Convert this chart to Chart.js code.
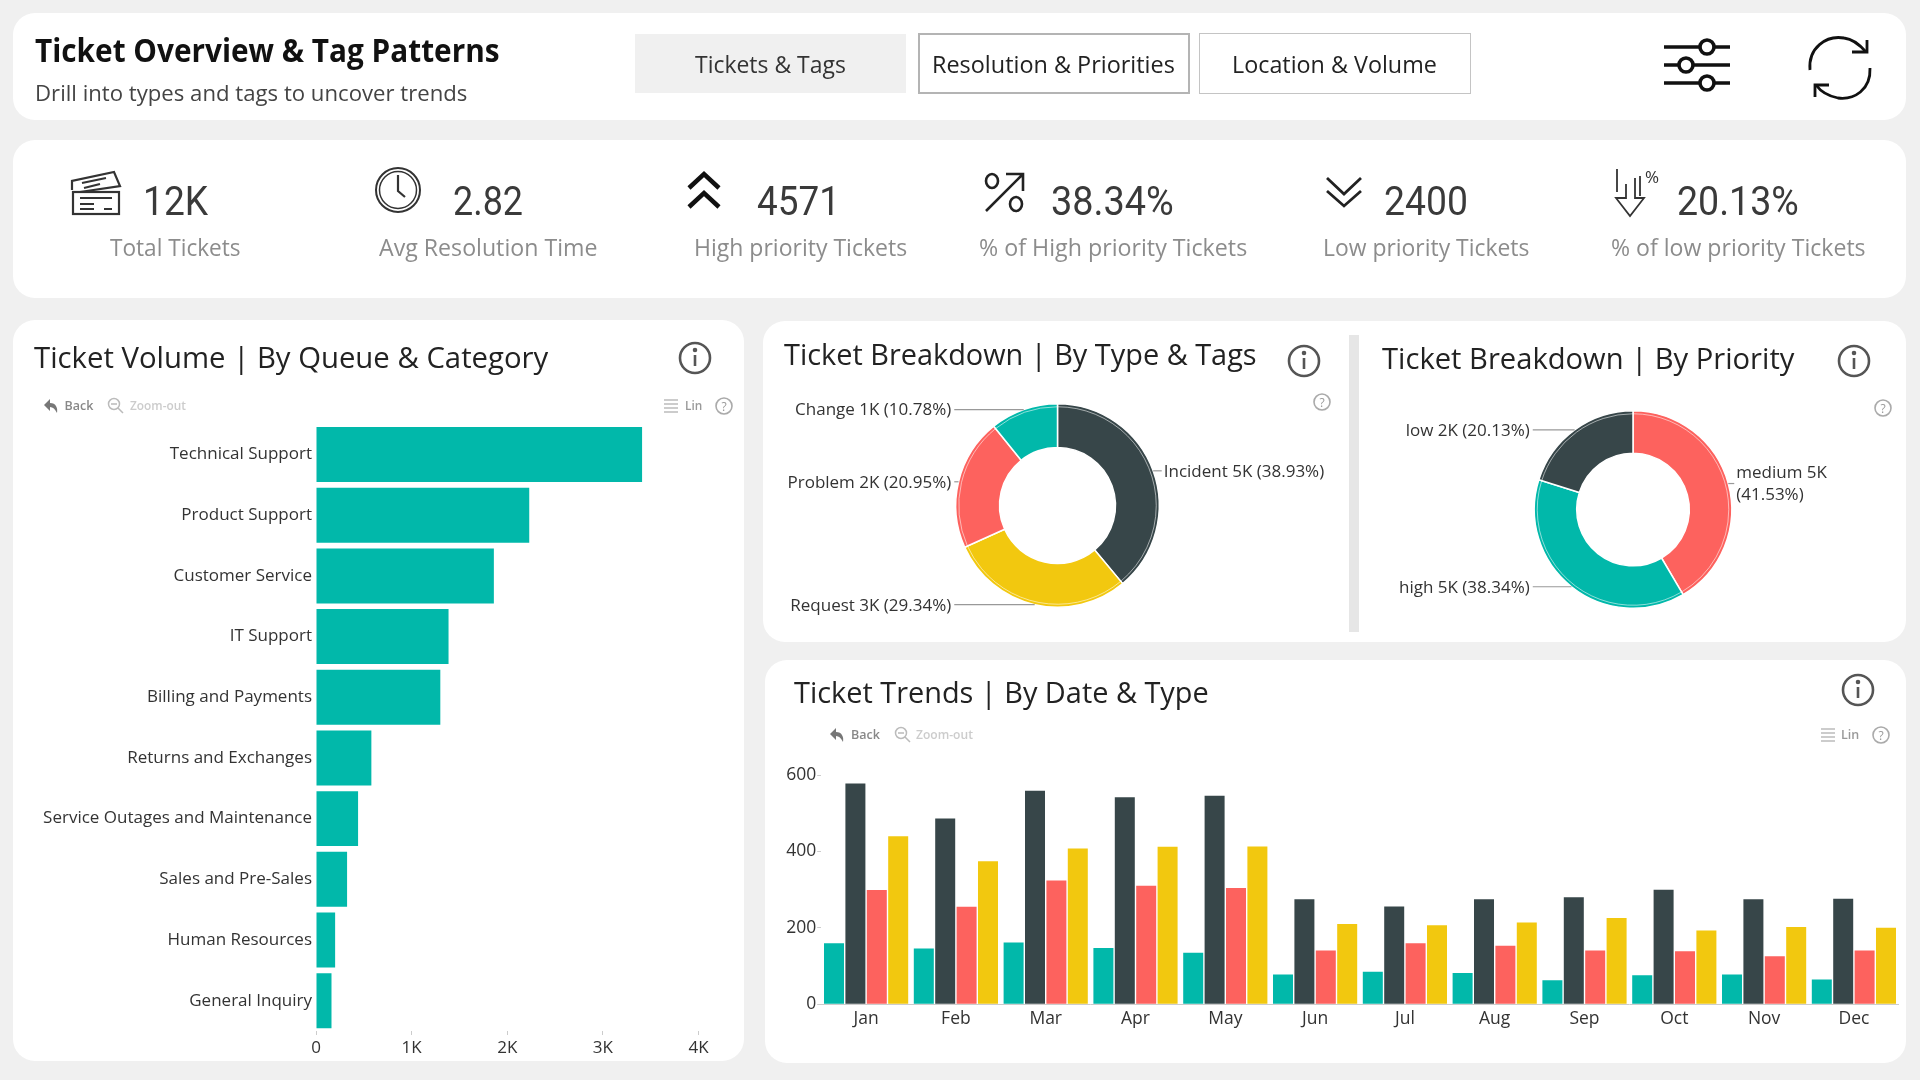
<!DOCTYPE html>
<html>
<head>
<meta charset="utf-8">
<title>Ticket Overview & Tag Patterns</title>
<script src="https://cdn.jsdelivr.net/npm/chart.js@4"></script>
<style>
  html, body { margin: 0; padding: 0; background: #f0f0f0; }
  #page { position: relative; width: 1920px; height: 1080px; overflow: hidden; background: #f0f0f0; font-family: "Open Sans", sans-serif; }
  .card { position: absolute; background: #fff; border-radius: 22px; }
  .box { position: absolute; box-sizing: border-box; }
  .txt { position: absolute; white-space: nowrap; transform-origin: left center; line-height: 1; }
  canvas { position: absolute; }
  #icons { position: absolute; left: 0; top: 0; }
</style>
</head>
<body>
<div id="page">
  <div class="card" style="left:13px;top:13px;width:1893px;height:107px"></div>
  <div class="card" style="left:13px;top:140px;width:1893px;height:158px"></div>
  <div class="card" style="left:13px;top:320px;width:731px;height:741px"></div>
  <div class="card" style="left:763px;top:321px;width:1143px;height:321px"></div>
  <div class="card" style="left:765px;top:660px;width:1141px;height:403px"></div>

  <div class="box" style="left:635px;top:34px;width:271px;height:59px;background:#f0f0f0"></div>
  <div class="box" style="left:918px;top:33px;width:272px;height:61px;border:2px solid #b4b4b4;background:#fff"></div>
  <div class="box" style="left:1199px;top:33px;width:272px;height:61px;border:1.5px solid #c4c4c4;background:#fff"></div>
  <div class="box" style="left:1349px;top:335px;width:10px;height:297px;background:#e6e6e6"></div>

  <canvas id="queueChart" style="left:20px;top:415px"></canvas>
  <canvas id="typeChart" style="left:770px;top:393.2px"></canvas>
  <canvas id="priorityChart" style="left:1360px;top:399.5px"></canvas>
  <canvas id="trendChart" style="left:770px;top:765px"></canvas>

  <svg id="icons" width="1920" height="1080" fill="none" stroke="#222" stroke-width="2">
    <!-- tickets -->
    <g stroke="#333" stroke-width="2.2">
      <path d="M72 190 V181 L114 172 L120 186 L80 192"/>
      <path d="M82 183 L106 178 M84 188 L100 184"/>
      <rect x="73" y="192" width="46" height="22"/>
      <path d="M80 198 H112 M80 204 H94 M80 209 H94 M104 209 H112"/>
    </g>
    <!-- clock -->
    <circle cx="398" cy="190" r="22" stroke="#333" stroke-width="2"/>
    <circle cx="398" cy="190" r="18.5" stroke="#333" stroke-width="1.5"/>
    <path d="M398 175 V191 L405 197" stroke="#333" stroke-width="2.2"/>
    <!-- high chevrons -->
    <path d="M689 188 L704 174 L719 188 M689 207 L704 193 L719 207" stroke="#111" stroke-width="4.5"/>
    <!-- percent up -->
    <g stroke="#222" stroke-width="2.6">
      <path d="M986 211 L1022 175 M1006 174 H1023 V191"/>
      <ellipse cx="992" cy="181" rx="6" ry="7"/>
      <ellipse cx="1016" cy="204" rx="6" ry="7"/>
    </g>
    <!-- low chevrons -->
    <path d="M1327 178 L1344 194 L1361 178 M1327 191 L1344 206 L1361 191" stroke="#222" stroke-width="2.8"/>
    <!-- percent down arrow -->
    <g stroke="#333" stroke-width="1.8">
      <path d="M1626 184 V198 H1616 L1630 216 L1644 198 H1635 V178"/>
      <path d="M1617 169 V192 M1640 176 V196"/>
      <text x="1645" y="183" fill="#333" stroke="none" font-size="17" font-family="Open Sans">%</text>
    </g>
    <!-- sliders -->
    <g stroke="#111" stroke-width="3.6">
      <path d="M1664 47 H1699 M1715 47 H1730 M1664 65 H1678 M1694 65 H1730 M1664 83 H1699 M1715 83 H1730"/>
      <circle cx="1707" cy="47" r="7"/><circle cx="1686" cy="65" r="7"/><circle cx="1707" cy="83" r="7"/>
    </g>
    <!-- refresh -->
    <g stroke="#111" stroke-width="2.8">
      <path d="M1810 70 C1808 48 1826 35 1844 38 C1853 39 1860 45 1866 52"/>
      <path d="M1867 40 V52 H1852"/>
      <path d="M1870 68 C1871 90 1854 100 1838 98 C1828 96 1821 92 1816 85"/>
      <path d="M1815 97 V85 H1829"/>
    </g>
    <!-- info -->
    <g id="infoIcons" stroke="#555" stroke-width="2.6"></g>
    <!-- toolbars -->
    <g id="toolIcons"></g>
  </svg>
  <div id="texts"></div>
</div>

<script>
const SERIES_COLORS = { teal: "#01B8AA", dark: "#374649", red: "#FD625E", yellow: "#F2C80F" };

// bar chart - queues
const queueNames = ["Technical Support", "Product Support", "Customer Service", "IT Support", "Billing and Payments", "Returns and Exchanges", "Service Outages and Maintenance", "Sales and Pre-Sales", "Human Resources", "General Inquiry"];
const queueTickets = [3410, 2230, 1860, 1386, 1300, 579, 440, 325, 200, 162];
const queueTickLabels = ["0", "1K", "2K", "3K", "4K"];

// doughnuts
const typeShares = [38.93, 29.34, 20.95, 10.78];
const typeLabels = ["Incident 5K (38.93%)", "Request 3K (29.34%)", "Problem 2K (20.95%)", "Change 1K (10.78%)"];
const priorityShares = [41.53, 38.34, 20.13];
const priorityLabels = ["medium 5K\n(41.53%)", "high 5K (38.34%)", "low 2K (20.13%)"];

// trends
const months = ["Jan", "Feb", "Mar", "Apr", "May", "Jun", "Jul", "Aug", "Sep", "Oct", "Nov", "Dec"];
const changeByMonth = [160, 146, 162, 147, 135, 78, 85, 82, 63, 76, 78, 65];
const incidentByMonth = [578, 486, 559, 542, 546, 275, 256, 275, 280, 300, 275, 276];
const problemByMonth = [299, 255, 324, 310, 304, 141, 160, 153, 141, 139, 126, 141];
const requestByMonth = [440, 374, 408, 412, 413, 210, 207, 214, 226, 193, 202, 200];

const CHART_FONT = "Open Sans";

function addText(text, x, cy, width, size, color, weight, family) {
  const el = document.createElement("div");
  el.className = "txt";
  el.textContent = text;
  el.style.left = x + "px";
  el.style.top = cy + "px";
  el.style.fontSize = size + "px";
  el.style.color = color;
  el.style.fontWeight = weight || 400;
  if (family) el.style.fontFamily = family;
  document.getElementById("texts").appendChild(el);
  // squeeze to the width the text has in the picture
  const k = width / el.offsetWidth;
  el.style.transform = `translateY(-50%) scaleX(${k.toFixed(3)})`;
}

function addInfo(cx, cy) {
  document.getElementById("infoIcons").innerHTML += `
    <circle cx="${cx}" cy="${cy}" r="15"/>
    <path d="M${cx} ${cy - 3} V${cy + 8}"/>
    <circle cx="${cx}" cy="${cy - 8}" r="1" fill="#555"/>`;
}

function addHelp(cx, cy) {
  document.getElementById("toolIcons").innerHTML += `
    <circle cx="${cx}" cy="${cy}" r="8" stroke="#aaa" stroke-width="1.6"/>
    <text x="${cx}" y="${cy + 4.5}" text-anchor="middle" font-size="12" font-family="Open Sans" fill="#999" stroke="none">?</text>`;
}

function addToolbar(backX, zoomX, listX, cy) {
  document.getElementById("toolIcons").innerHTML += `
    <path d="M${backX} ${cy - 1} L${backX + 6} ${cy - 7} V${cy - 3} C${backX + 12} ${cy - 3} ${backX + 14} ${cy + 2} ${backX + 13} ${cy + 7} C${backX + 11} ${cy + 3} ${backX + 9} ${cy + 1} ${backX + 6} ${cy + 1} V${cy + 5} Z" fill="#777" stroke="none"/>
    <circle cx="${zoomX + 6}" cy="${cy - 2}" r="5.5" stroke="#bbb" stroke-width="1.5"/>
    <path d="M${zoomX + 10} ${cy + 2} L${zoomX + 15} ${cy + 7} M${zoomX + 3} ${cy - 2} H${zoomX + 9}" stroke="#bbb" stroke-width="1.5"/>
    <path d="M${listX} ${cy - 6} H${listX + 14} M${listX} ${cy - 2} H${listX + 14} M${listX} ${cy + 2} H${listX + 14} M${listX} ${cy + 6} H${listX + 14}" stroke="#999" stroke-width="1.2"/>`;
}

function buildPage() {
  const DIN = "Roboto";
  addText("Ticket Overview & Tag Patterns", 35, 50, 465, 32, "#111", 700);
  addText("Drill into types and tags to uncover trends", 35, 92, 432, 22, "#444");
  addText("Tickets & Tags", 694.5, 64, 151, 24, "#333");
  addText("Resolution & Priorities", 932, 64, 243, 24, "#222");
  addText("Location & Volume", 1232, 64, 205, 24, "#222");

  addText("12K", 143, 202, 65, 40, "#3a3a3a", 400, DIN);
  addText("2.82", 453, 202, 70, 40, "#3a3a3a", 400, DIN);
  addText("4571", 757, 202, 83, 40, "#3a3a3a", 400, DIN);
  addText("38.34%", 1051, 202, 123, 40, "#3a3a3a", 400, DIN);
  addText("2400", 1384, 202, 84, 40, "#3a3a3a", 400, DIN);
  addText("20.13%", 1677, 202, 122, 40, "#3a3a3a", 400, DIN);

  addText("Total Tickets", 110, 247, 131, 24, "#8c8c8c");
  addText("Avg Resolution Time", 379, 247, 218, 24, "#8c8c8c");
  addText("High priority Tickets", 694, 247, 213, 24, "#8c8c8c");
  addText("% of High priority Tickets", 979, 247, 268, 24, "#8c8c8c");
  addText("Low priority Tickets", 1323, 247, 206, 24, "#8c8c8c");
  addText("% of low priority Tickets", 1611, 247, 255, 24, "#8c8c8c");

  addText("Ticket Volume | By Queue & Category", 34, 357, 514, 30, "#222");
  addText("Ticket Breakdown | By Type & Tags", 784, 354, 473, 30, "#222");
  addText("Ticket Breakdown | By Priority", 1382, 358, 412, 30, "#222");
  addText("Ticket Trends | By Date & Type", 794, 692, 415, 30, "#222");

  addText("Back", 64.5, 406, 29, 12.5, "#888", 600);
  addText("Zoom-out", 129.5, 406, 56, 12.5, "#ccc", 600);
  addText("Lin", 684.5, 406, 17, 12.5, "#999", 600);
  addText("Back", 851, 735, 29, 12.5, "#888", 600);
  addText("Zoom-out", 916, 735, 57, 12.5, "#ccc", 600);
  addText("Lin", 1841, 735, 18, 12.5, "#999", 600);

  addInfo(695, 358);
  addInfo(1304, 361);
  addInfo(1854, 361);
  addInfo(1858, 690);
  addToolbar(44, 108, 664, 406);
  addToolbar(830, 895, 1821, 735);
  addHelp(724, 406);
  addHelp(1881, 735);
  addHelp(1322, 402);
  addHelp(1883, 408);
}

// leader lines and labels for the doughnuts, taken from each arc's own geometry
const sliceLabelsPlugin = {
  id: "sliceLabels",
  afterDatasetsDraw(chart, args, opts) {
    const ctx = chart.ctx;
    const arcs = chart.getDatasetMeta(0).data;
    arcs.forEach((arc, i) => {
      const p = arc.getProps(["x", "y", "startAngle", "endAngle", "outerRadius"], true);
      // thin light ring just inside the outer edge
      ctx.save();
      ctx.strokeStyle = "rgba(255,255,255,0.55)";
      ctx.lineWidth = 1;
      ctx.beginPath();
      ctx.arc(p.x, p.y, p.outerRadius - 3, p.startAngle, p.endAngle);
      ctx.stroke();

      const mid = (p.startAngle + p.endAngle) / 2;
      const ax = p.x + Math.cos(mid) * p.outerRadius;
      const ay = p.y + Math.sin(mid) * p.outerRadius;
      const right = Math.cos(mid) > 0;
      const tx = p.x + (right ? 1 : -1) * (p.outerRadius + opts.gap);

      ctx.strokeStyle = "#999";
      ctx.lineWidth = 1.2;
      ctx.beginPath();
      ctx.moveTo(ax, ay);
      ctx.lineTo(tx + (right ? -2 : 3), ay);
      ctx.stroke();

      ctx.font = `${opts.size}px "${CHART_FONT}"`;
      ctx.fillStyle = "#333";
      ctx.textAlign = right ? "left" : "right";
      ctx.textBaseline = "middle";
      const lines = chart.data.labels[i].split("\n");
      const top = ay + 1 - (lines.length - 1) * 11;
      lines.forEach((line, n) => ctx.fillText(line, tx, top + n * 22));
      ctx.restore();
    });
  }
};

function drawDoughnut(canvasId, w, h, labels, values, colors) {
  const canvas = document.getElementById(canvasId);
  canvas.width = w;
  canvas.height = h;
  canvas.style.width = w + "px";
  canvas.style.height = h + "px";
  new Chart(canvas.getContext("2d"), {
    type: "doughnut",
    data: { labels, datasets: [{ data: values, backgroundColor: colors, borderColor: "#fff", borderWidth: 1.5 }] },
    plugins: [sliceLabelsPlugin],
    options: {
      responsive: false,
      animation: false,
      cutout: "57%",
      layout: { padding: 10 },
      plugins: {
        legend: { display: false },
        tooltip: { enabled: false },
        sliceLabels: { gap: 4.5, size: 17 }
      }
    }
  });
}

// no extra room for first/last labels, the plot stays where the layout puts it
function fixAxis(s, size) {
  if (s.isHorizontal()) s.height = size;
  else s.width = size;
  s.paddingTop = 0;
  s.paddingBottom = 0;
  s.paddingLeft = 0;
  s.paddingRight = 0;
}

function drawQueueChart() {
  const canvas = document.getElementById("queueChart");
  canvas.style.width = "724px";
  canvas.style.height = "650px";
  canvas.width = 724;
  canvas.height = 650;
  new Chart(canvas.getContext("2d"), {
    type: "bar",
    data: {
      labels: queueNames,
      datasets: [{ data: queueTickets, backgroundColor: SERIES_COLORS.teal, barPercentage: 0.906, categoryPercentage: 1 }]
    },
    options: {
      indexAxis: "y",
      responsive: false,
      animation: false,
      layout: { padding: { top: 9.2, right: 45.5 } },
      plugins: { legend: { display: false }, tooltip: { enabled: false } },
      scales: {
        x: {
          min: 0,
          max: 4000,
          ticks: {
            stepSize: 1000,
            padding: 3,
            color: "#333",
            font: { family: CHART_FONT, size: 17 },
            callback: (v, i) => queueTickLabels[i]
          },
          grid: { drawOnChartArea: false, tickLength: 4, tickColor: "#ccc" },
          border: { display: false },
          afterFit: s => fixAxis(s, 34)
        },
        y: {
          ticks: { padding: 4, color: "#333", font: { family: CHART_FONT, size: 17 } },
          grid: { display: false, drawTicks: false },
          border: { display: false },
          afterFit: s => fixAxis(s, 296)
        }
      }
    }
  });
}

function drawTrendChart() {
  const canvas = document.getElementById("trendChart");
  canvas.style.width = "1136px";
  canvas.style.height = "280px";
  canvas.width = 1136;
  canvas.height = 280;
  const series = [changeByMonth, incidentByMonth, problemByMonth, requestByMonth];
  const colors = [SERIES_COLORS.teal, SERIES_COLORS.dark, SERIES_COLORS.red, SERIES_COLORS.yellow];
  new Chart(canvas.getContext("2d"), {
    type: "bar",
    data: {
      labels: months,
      datasets: series.map((data, i) => ({ data, backgroundColor: colors[i], barPercentage: 0.935, categoryPercentage: 0.953 }))
    },
    options: {
      responsive: false,
      animation: false,
      layout: { padding: { top: 10, right: 7.2 } },
      plugins: { legend: { display: false }, tooltip: { enabled: false } },
      scales: {
        x: {
          ticks: { padding: 4, color: "#333", font: { family: CHART_FONT, size: 17.5 } },
          grid: { display: false, drawTicks: false },
          border: { color: "#ccc" },
          afterFit: s => fixAxis(s, 40.7)
        },
        y: {
          min: 0,
          max: 600,
          ticks: { stepSize: 200, padding: 1, color: "#333", font: { family: CHART_FONT, size: 17.5 } },
          grid: { drawOnChartArea: false, tickLength: 4, tickColor: "#ccc" },
          border: { display: false },
          afterFit: s => fixAxis(s, 51.2)
        }
      }
    }
  });
}

document.addEventListener("DOMContentLoaded", () => {
  buildPage();
  drawQueueChart();
  drawDoughnut("typeChart", 575, 225, typeLabels, typeShares,
    [SERIES_COLORS.dark, SERIES_COLORS.yellow, SERIES_COLORS.red, SERIES_COLORS.teal]);
  drawDoughnut("priorityChart", 546, 219, priorityLabels, priorityShares,
    [SERIES_COLORS.red, SERIES_COLORS.teal, SERIES_COLORS.dark]);
  drawTrendChart();
});
</script>
</body>
</html>
